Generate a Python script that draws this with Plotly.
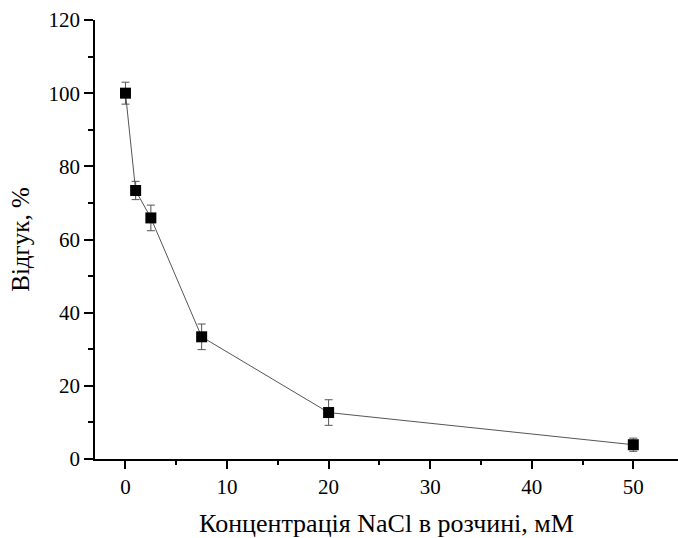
import plotly.graph_objects as go

concentration_mM = [0, 1, 2.5, 7.5, 20, 50]
response_pct = [100, 73.4, 65.9, 33.4, 12.7, 3.9]
response_err = [3.0, 2.5, 3.5, 3.5, 3.5, 1.8]

x_title = "Концентрація NaCl в розчині, мМ"
y_title = "Відгук, %"

fig = go.Figure()
fig.add_trace(go.Scatter(
    x=concentration_mM, y=response_pct,
    mode="lines+markers",
    line=dict(color="#555555", width=1),
    marker=dict(symbol="square", size=11, color="black"),
    error_y=dict(type="data", array=response_err, visible=True,
                 color="#555555", thickness=1, width=4),
    showlegend=False,
))

font_family = "Times New Roman, Liberation Serif, DejaVu Serif, serif"
fig.update_layout(
    width=678, height=538,
    margin=dict(l=95, r=0, t=20, b=79),
    paper_bgcolor="white", plot_bgcolor="white",
    font=dict(family=font_family, color="black"),
    xaxis=dict(
        range=[-3, 54.4], tickvals=[0, 10, 20, 30, 40, 50],
        showgrid=False, zeroline=False, showline=True, linecolor="black", linewidth=1.5,
        ticks="outside", ticklen=8, tickwidth=1.5, tickcolor="black",
        minor=dict(tickvals=[5, 15, 25, 35, 45], ticks="outside", ticklen=4, tickwidth=1.5, tickcolor="black"),
        tickfont=dict(size=21, family=font_family),
        title=dict(text=x_title, font=dict(size=26, family=font_family), standoff=16),
    ),
    yaxis=dict(
        range=[0, 120], tickvals=[0, 20, 40, 60, 80, 100, 120],
        showgrid=False, zeroline=False, showline=True, linecolor="black", linewidth=1.5,
        ticks="outside", ticklen=9, tickwidth=1.5, tickcolor="black",
        minor=dict(tickvals=[10, 30, 50, 70, 90, 110], ticks="outside", ticklen=5, tickwidth=1.5, tickcolor="black"),
        tickfont=dict(size=21, family=font_family),
        title=dict(text=y_title, font=dict(size=25, family=font_family), standoff=12),
    ),
)
fig.write_html("out.html", config={"displayModeBar": False},
               post_script="document.body.style.margin='0';")
